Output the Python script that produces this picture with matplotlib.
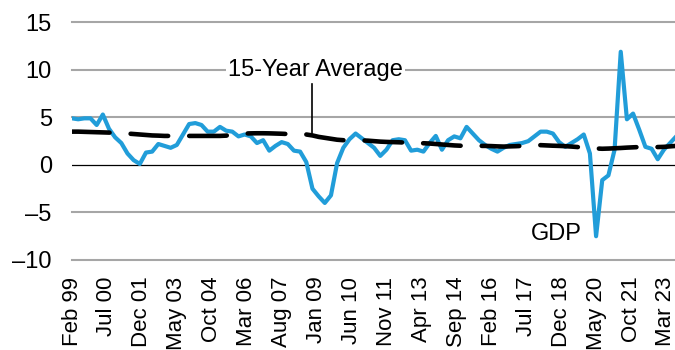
import numpy as np
import matplotlib
matplotlib.use("Agg")
import matplotlib.pyplot as plt

plt.rcParams['font.family'] = ['Liberation Sans', 'DejaVu Sans']

# quarterly values, first point = Feb 99, plotted on a monthly axis
gdp = [4.9, 4.8, 4.9, 4.9, 4.2, 5.3, 3.8, 2.9, 2.3, 1.2,
       0.5, 0.1, 1.3, 1.4, 2.2, 2.0, 1.8, 2.1, 3.2, 4.3,
       4.4, 4.2, 3.5, 3.5, 4.0, 3.6, 3.5, 3.0, 3.2, 3.0,
       2.3, 2.6, 1.5, 2.0, 2.4, 2.2, 1.5, 1.4, 0.3, -2.5,
       -3.3, -4.0, -3.2, 0.2, 1.8, 2.7, 3.3, 2.8, 2.3, 1.8,
       0.95, 1.6, 2.6, 2.7, 2.6, 1.5, 1.6, 1.4, 2.3, 3.05,
       1.6, 2.6, 3.0, 2.8, 4.0, 3.3, 2.6, 2.1, 1.7, 1.4,
       1.8, 2.1, 2.2, 2.3, 2.5, 3.0, 3.5, 3.5, 3.3, 2.4,
       1.9, 2.3, 2.7, 3.2, 1.2, -7.5, -1.6, -1.1, 1.6, 11.9,
       4.8, 5.4, 3.7, 1.9, 1.7, 0.6, 1.6, 2.3, 3.0]

avg15 = [3.5, 3.5, 3.48, 3.46, 3.44, 3.42, 3.4, 3.37, 3.34, 3.3,
         3.25, 3.2, 3.15, 3.1, 3.08, 3.05, 3.05, 3.05, 3.05, 3.05,
         3.05, 3.05, 3.05, 3.05, 3.05, 3.08, 3.2, 3.28, 3.3, 3.32,
         3.33, 3.33, 3.32, 3.3, 3.28, 3.25, 3.25, 3.25, 3.2, 3.1,
         2.95, 2.85, 2.75, 2.65, 2.6, 2.6, 2.6, 2.58, 2.55, 2.5,
         2.45, 2.42, 2.4, 2.38, 2.35, 2.32, 2.3, 2.28, 2.25, 2.2,
         2.15, 2.1, 2.05, 2.02, 2.0, 2.0, 2.0, 2.0, 1.98, 1.95,
         1.93, 1.95, 1.97, 2.0, 2.02, 2.05, 2.08, 2.05, 2.02, 2.0,
         1.97, 1.93, 1.88, 1.83, 1.78, 1.73, 1.7, 1.72, 1.75, 1.78,
         1.82, 1.85, 1.88, 1.9, 1.9, 1.88, 1.9, 1.95, 2.0]

tick_labels = ['Feb 99', 'Jul 00', 'Dec 01', 'May 03', 'Oct 04', 'Mar 06',
               'Aug 07', 'Jan 09', 'Jun 10', 'Nov 11', 'Apr 13', 'Sep 14',
               'Feb 16', 'Jul 17', 'Dec 18', 'May 20', 'Oct 21', 'Mar 23']
y_ticks = [-10, -5, 0, 5, 10, 15]
y_labels = ['\u201310', '\u20135', '0', '5', '10', '15']

months = np.arange(len(gdp)) * 3

fig = plt.figure(figsize=(6.75, 3.5), dpi=100)
ax = fig.add_axes([72 / 675, 1 - 260 / 350, 1 - 72 / 675, 237.7 / 350])

for v in y_ticks:
    if v == 0:
        continue
    ax.axhline(v, color='#a6a6a6', lw=1.5, clip_on=False, zorder=1)
ax.axhline(0, color='black', lw=0.9, zorder=2)

ax.plot(months, gdp, color='#219dd9', lw=3.0, solid_joinstyle='round', zorder=3)
avg_line, = ax.plot(months, avg15, color='black', lw=3.3, zorder=4,
                    dash_capstyle='round')
avg_line.set_dashes((8.2, 4.6))

ax.set_xlim(0, 293.4)
ax.set_ylim(-10, 15)
ax.set_yticks(y_ticks)
ax.set_yticklabels(y_labels, fontsize=17)
ax.set_xticks(np.arange(len(tick_labels)) * 17)
ax.set_xticklabels(tick_labels, rotation=90, fontsize=16)
ax.tick_params(axis='both', length=0)
ax.tick_params(axis='y', pad=14.5)
ax.tick_params(axis='x', pad=12)
for s in ax.spines.values():
    s.set_visible(False)

# labels
ax.text(118.5, 10, '15-Year Average', ha='center', va='center', fontsize=17,
        zorder=5, bbox=dict(facecolor='white', edgecolor='none', pad=1.5))
ax.plot([116.8, 116.8], [8.5, 3.4], color='black', lw=1.2, zorder=5)
ax.text(235.5, -7.3, 'GDP', ha='center', va='center', fontsize=17, zorder=5)

fig.savefig('out.png', dpi=100)
